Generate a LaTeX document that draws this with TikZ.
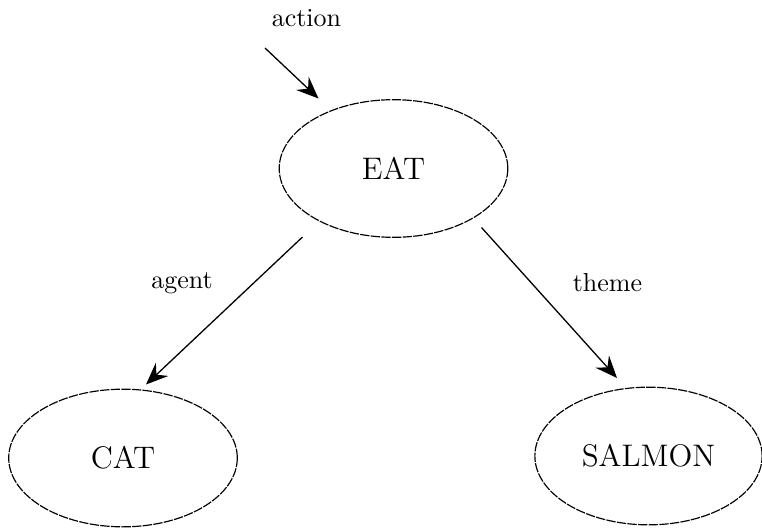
\documentclass[tikz,border=0pt]{standalone}
\usetikzlibrary{shapes.geometric,arrows.meta}
\begin{document}
\begin{tikzpicture}[x=0.385pt,y=-0.385pt,
  concept/.style={ellipse,draw,line width=0.45pt,dash pattern=on 3.6pt off 0.5pt,
    minimum width=88pt,minimum height=53pt,inner sep=0pt,font=\large},
  relation/.style={draw,line width=0.5pt,-{Stealth[length=8.5pt,width=7pt,inset=3pt]}},
  rolelabel/.style={font=\normalsize}]
  \useasboundingbox (0,0) rectangle (762,528);

  % concept nodes
  \node[concept] (eat) at (393.5,168.5) {EAT};
  \node[concept] (cat) at (123,458) {CAT};
  \node[concept, minimum width=87.5pt] (salmon) at (648.5,456) {SALMON};

  % role labels
  \node[rolelabel] (lbaction) at (306.5,18) {action};
  \node[rolelabel] (lbagent) at (182,283) {agent};
  \node[rolelabel] (lbtheme) at (607.5,283) {theme};

  % arrow end points
  \coordinate (actionstart) at (265,48);
  \coordinate (actionend) at (318.5,98.5);
  \coordinate (agentstart) at (302.5,237);
  \coordinate (agentend) at (146,384.5);
  \coordinate (themestart) at (481.5,227.5);
  \coordinate (themeend) at (617,378);

  % relations
  \draw[relation] (actionstart) -- (actionend);
  \draw[relation] (agentstart) -- (agentend);
  \draw[relation] (themestart) -- (themeend);
\end{tikzpicture}
\end{document}
